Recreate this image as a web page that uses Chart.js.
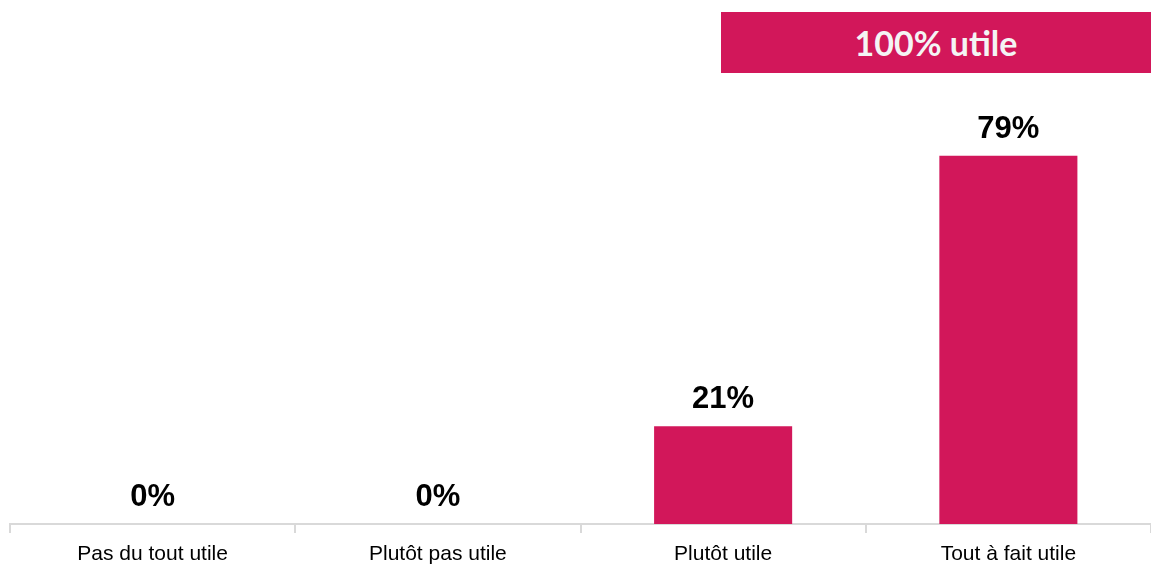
<!DOCTYPE html>
<html>
<head>
<meta charset="utf-8">
<script src="https://cdn.jsdelivr.net/npm/chart.js@4.4.1/dist/chart.umd.min.js"></script>
<style>
  html, body { margin: 0; padding: 0; background: #ffffff; }
  #wrap { position: relative; width: 1151px; height: 565px; }
  #banner {
    position: absolute; left: 721px; top: 12px; width: 430px; height: 61px;
    background: #D2175A; color: #f4f4f4;
    font-family: Lato, "Open Sans", sans-serif; font-weight: bold; font-size: 34px;
    display: flex; align-items: center; justify-content: center;
  }
  canvas { position: absolute; left: 0; top: 0; }
</style>
</head>
<body>
<div id="wrap">
  <canvas id="c" width="1151" height="565"></canvas>
  <div id="banner"></div>
</div>
<script>
const categories = ["Pas du tout utile", "Plutôt pas utile", "Plutôt utile", "Tout à fait utile"];
const values = [0, 0, 21, 79];
const valueLabels = ["0%", "0%", "21%", "79%"];
const bannerText = "100% utile";

document.getElementById("banner").textContent = bannerText;

const barColor = "#D2175A";

const labelPlugin = {
  id: "valueLabels",
  afterDatasetsDraw(chart) {
    const ctx = chart.ctx;
    const meta = chart.getDatasetMeta(0);
    ctx.save();
    ctx.font = "bold 31px 'Liberation Sans', Arial, sans-serif";
    ctx.fillStyle = "#000000";
    ctx.textAlign = "center";
    ctx.textBaseline = "alphabetic";
    meta.data.forEach((bar, i) => {
      ctx.fillText(valueLabels[i], bar.x, bar.y - 18);
    });
    ctx.restore();
  }
};

new Chart(document.getElementById("c"), {
  type: "bar",
  data: {
    labels: categories,
    datasets: [{
      data: values,
      backgroundColor: barColor,
      borderWidth: 0,
      categoryPercentage: 1.0,
      barPercentage: 0.484
    }]
  },
  options: {
    responsive: false,
    animation: false,
    devicePixelRatio: 1,
    layout: { padding: { left: 10, right: 0, top: 58, bottom: 0 } },
    plugins: { legend: { display: false }, tooltip: { enabled: false }, title: { display: false } },
    scales: {
      y: { display: false, min: 0, max: 100 },
      x: {
        offset: true,
        afterFit: (scale) => { scale.height = 41; },
        border: { display: true, color: "#d9d9d9", width: 2 },
        grid: { display: true, drawOnChartArea: false, drawTicks: true, tickLength: 9, color: "#d9d9d9", lineWidth: 2, offset: true },
        ticks: {
          color: "#000000",
          padding: 9,
          maxRotation: 0,
          autoSkip: false,
          font: { family: "'Liberation Sans', Arial, sans-serif", size: 21 }
        }
      }
    }
  },
  plugins: [labelPlugin]
});
</script>
</body>
</html>
